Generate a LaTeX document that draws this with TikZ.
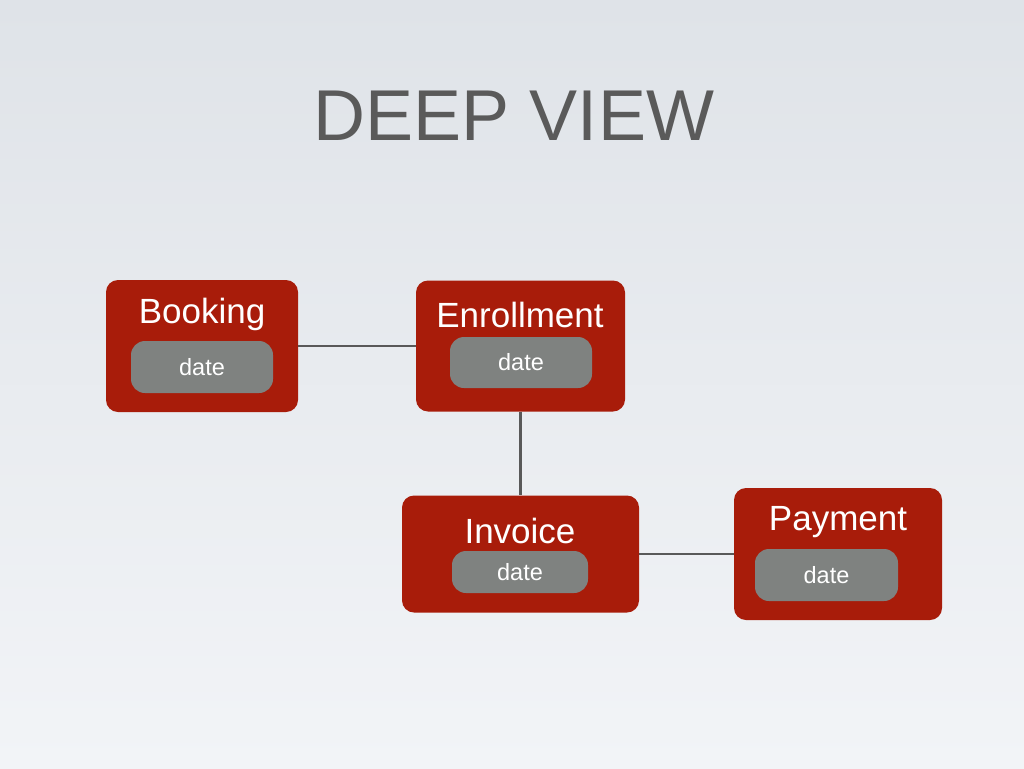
\documentclass[tikz,border=0pt]{standalone}
\usepackage{fontspec}
\setmainfont{Liberation Sans}
\definecolor{boxred}{HTML}{A81C0A}
\definecolor{fieldgray}{HTML}{7F8280}
\definecolor{linegray}{HTML}{595959}
\definecolor{titlegray}{HTML}{5A5A5A}
\begin{document}
\begin{tikzpicture}[x=1pt,y=-1pt,
  entity/.style={fill=boxred,rounded corners=12pt,inner sep=0pt},
  field/.style={fill=fieldgray,rounded corners=14pt,inner sep=0pt,text=white,font=\fontsize{23.5}{23.5}\selectfont},
  ename/.style={text=white,font=\fontsize{35}{35}\selectfont},
  link/.style={draw=linegray,line width=2.5pt}]
\shade[top color={rgb,255:red,223;green,227;blue,232},bottom color={rgb,255:red,242;green,244;blue,247}] (0,0) rectangle (1024,768);
\useasboundingbox (0,0) rectangle (1024,768);
\node[text=titlegray,font=\fontsize{72}{72}\selectfont] (title) at (514,116) {DEEP VIEW};
% entities
\node[entity,minimum width=192pt,minimum height=132pt] (book) at (202,346) {};
\node[entity,minimum width=209pt,minimum height=131pt] (enr) at (520.5,346) {};
\node[entity,minimum width=237pt,minimum height=117pt] (inv) at (520.5,554) {};
\node[entity,minimum width=208pt,minimum height=132pt] (pay) at (838,554) {};
% links
\draw[link] (book.east) -- (enr.west);
\draw[link] (enr.south) -- (inv.north);
\draw[link] (inv.east) -- (pay.west);
% names
\node[ename] (bookn) at (202,314) {Booking};
\node[ename] (enrn) at (520,315) {Enrollment};
\node[ename] (invn) at (520,531) {Invoice};
\node[ename] (payn) at (838,522) {Payment};
% fields
\node[field,minimum width=142pt,minimum height=52pt] (bookd) at (202,367) {date};
\node[field,minimum width=142pt,minimum height=51pt] (enrd) at (521,362.5) {date};
\node[field,minimum width=136pt,minimum height=42pt] (invd) at (520,572) {date};
\node[field,minimum width=143pt,minimum height=52pt] (payd) at (826.5,575) {date};
\end{tikzpicture}
\end{document}
